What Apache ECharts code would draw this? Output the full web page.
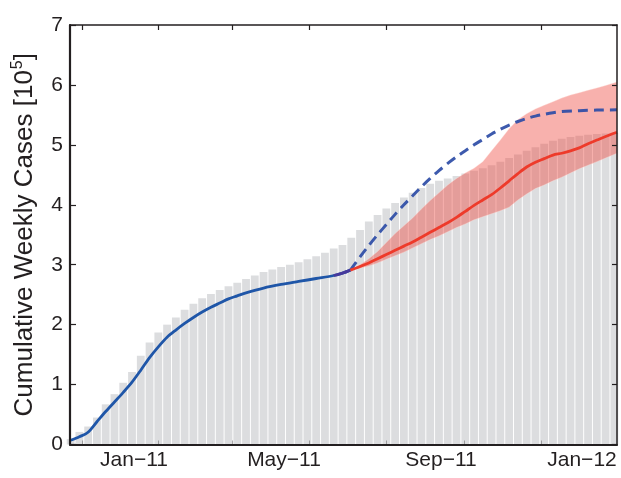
<!DOCTYPE html>
<html>
<head>
<meta charset="utf-8">
<script src="https://cdn.jsdelivr.net/npm/echarts@6/dist/echarts.min.js"></script>
<style>
  html, body { margin: 0; padding: 0; background: #ffffff; }
  #chart { width: 621px; height: 478px; }
</style>
</head>
<body>
<div id="chart"></div>
<script>
// Cumulative reported cases per week (x 10^5), one bar per week
const cumulativeCases = [
  0.09, 0.21, 0.30, 0.45, 0.67, 0.84, 1.03, 1.21, 1.48, 1.70,
  1.87, 2.00, 2.12, 2.25, 2.35, 2.44, 2.51, 2.58, 2.64, 2.70,
  2.76, 2.82, 2.88, 2.92, 2.96, 3.00, 3.04, 3.09, 3.14, 3.20,
  3.27, 3.33, 3.45, 3.58, 3.72, 3.83, 3.94, 4.03, 4.12, 4.20,
  4.28, 4.35, 4.40, 4.44, 4.48, 4.52, 4.57, 4.61, 4.66, 4.72,
  4.78, 4.84, 4.90, 4.96, 5.02, 5.07, 5.10, 5.13, 5.15, 5.17,
  5.18, 5.19, 5.20
];

// Model fit to the early epidemic (week index, cases x 10^5)
const fitWeeks = [0, 1, 1.95, 3, 4, 5, 6, 7, 8, 9, 10, 11, 12, 13, 14, 15, 16, 17, 18, 19, 20, 22, 24, 26, 28, 30, 31, 31.9];
const fitCases = [0.07, 0.13, 0.20, 0.38, 0.55, 0.71, 0.87, 1.04, 1.24, 1.45, 1.63, 1.79, 1.91, 2.02, 2.12, 2.21, 2.29, 2.36, 2.43, 2.48, 2.53, 2.61, 2.67, 2.72, 2.77, 2.82, 2.86, 2.91];

// Projection of the early fit (dashed)
const projWeeks = [31.9, 33, 34, 35, 36, 37, 38, 39, 40, 41, 42, 43, 44, 45, 46, 47, 48, 49, 50, 51, 52, 53, 54, 55, 56, 58, 60, 62.3];
const projCases = [2.91, 3.13, 3.32, 3.50, 3.67, 3.84, 4.00, 4.15, 4.30, 4.44, 4.57, 4.69, 4.80, 4.90, 5.00, 5.09, 5.18, 5.26, 5.33, 5.39, 5.44, 5.48, 5.51, 5.535, 5.555, 5.57, 5.58, 5.585];

// Updated model: median and uncertainty band
const modelWeeks = [31.9, 33, 34, 35, 36, 37, 38, 39, 40, 41, 42, 43, 44, 45, 46, 47, 48, 49, 50, 51, 52, 53, 54, 55, 56, 57, 58, 59, 60, 61, 62.3];
const modelMid = [2.91, 2.97, 3.03, 3.10, 3.17, 3.24, 3.31, 3.38, 3.46, 3.54, 3.62, 3.70, 3.79, 3.89, 3.99, 4.08, 4.17, 4.28, 4.40, 4.52, 4.63, 4.71, 4.77, 4.83, 4.86, 4.90, 4.95, 5.02, 5.08, 5.14, 5.21];
const modelLow = [2.91, 2.94, 2.98, 3.03, 3.09, 3.15, 3.21, 3.28, 3.35, 3.42, 3.48, 3.55, 3.62, 3.68, 3.75, 3.80, 3.85, 3.90, 3.96, 4.08, 4.18, 4.27, 4.33, 4.40, 4.46, 4.53, 4.60, 4.66, 4.72, 4.78, 4.86];
const modelHigh = [2.91, 3.00, 3.10, 3.22, 3.37, 3.52, 3.65, 3.78, 3.93, 4.07, 4.20, 4.33, 4.44, 4.53, 4.61, 4.72, 4.90, 5.08, 5.27, 5.42, 5.52, 5.60, 5.66, 5.72, 5.78, 5.83, 5.87, 5.91, 5.95, 5.99, 6.05];

// Axis ticks and month labels (in week units)
const tickWeeks = [1.30, 9.97, 18.40, 27.18, 35.96, 44.85, 53.63];
const monthLabelWeeks = [7.23, 24.33, 42.23, 58.31];
const monthLabels = ['Jan\u221211', 'May\u221211', 'Sep\u221211', 'Jan\u221212'];

const INK = '#231f20';
const FONT = 'Liberation Sans, Arial, Helvetica, sans-serif';
const X_MIN = -0.07, X_MAX = 62.3;

function monthLabelFor(v) {
  let best = 0;
  for (let i = 1; i < monthLabelWeeks.length; i++) {
    if (Math.abs(monthLabelWeeks[i] - v) < Math.abs(monthLabelWeeks[best] - v)) best = i;
  }
  return monthLabels[best];
}

const chart = echarts.init(document.getElementById('chart'), null, { renderer: 'canvas' });

const fitTail = fitWeeks.map((w, i) => [w, fitCases[i]]).filter(p => p[0] >= 30);

chart.setOption({
  animation: false,
  backgroundColor: '#ffffff',
  grid: { left: 70, right: 4, top: 25, bottom: 33.5, containLabel: false },
  xAxis: [
    {
      type: 'value', position: 'bottom', min: X_MIN, max: X_MAX, z: 10,
      axisLine: { show: true, onZero: false, lineStyle: { color: INK, width: 2.2 } },
      axisTick: { show: true, inside: true, length: 4, customValues: tickWeeks,
                  lineStyle: { color: 'rgba(35,31,32,0.35)', width: 1 } },
      axisLabel: { show: true, customValues: monthLabelWeeks, formatter: monthLabelFor,
                   color: INK, fontSize: 21, fontFamily: FONT, margin: 5 },
      splitLine: { show: false }
    },
    {
      type: 'value', position: 'top', min: X_MIN, max: X_MAX, z: 10,
      axisLine: { show: true, onZero: false, lineStyle: { color: INK, width: 1.5 } },
      axisTick: { show: true, inside: true, length: 5, customValues: tickWeeks,
                  lineStyle: { color: INK, width: 1.2 } },
      axisLabel: { show: false },
      splitLine: { show: false }
    }
  ],
  yAxis: [
    {
      type: 'value', position: 'left', min: 0, max: 7, interval: 1, z: 10,
      axisLine: { show: true, onZero: false, lineStyle: { color: INK, width: 2.2 } },
      axisTick: { show: true, inside: true, length: 6, lineStyle: { color: INK, width: 1.2 } },
      axisLabel: { color: INK, fontSize: 21, fontFamily: FONT, margin: 7 },
      splitLine: { show: false },
      name: '{a|Cumulative Weekly Cases [10}{s|5}{a|]}',
      nameLocation: 'middle',
      nameRotate: 90,
      nameGap: 30,
      nameTextStyle: {
        color: INK, fontFamily: FONT, fontSize: 26,
        rich: {
          a: { color: INK, fontFamily: FONT, fontSize: 26, lineHeight: 30 },
          s: { color: INK, fontFamily: FONT, fontSize: 16, lineHeight: 30, verticalAlign: 'top', padding: [0, 0, 0, 1] }
        }
      }
    },
    {
      type: 'value', position: 'right', min: 0, max: 7, interval: 1, z: 10,
      axisLine: { show: true, onZero: false, lineStyle: { color: INK, width: 1.5 } },
      axisTick: { show: true, inside: true, length: 5, lineStyle: { color: INK, width: 1.2 } },
      axisLabel: { show: false },
      splitLine: { show: false }
    }
  ],
  series: [
    {
      name: 'Weekly cumulative cases',
      type: 'bar', xAxisIndex: 0, yAxisIndex: 0, z: 1,
      barWidth: 7.8,
      itemStyle: { color: '#dcdddf' },
      data: cumulativeCases.map((v, i) => [i, v])
    },
    {
      name: 'Uncertainty band',
      type: 'custom', xAxisIndex: 0, yAxisIndex: 0, z: 3,
      data: modelWeeks.map((w, i) => [w, modelLow[i], modelHigh[i]]),
      encode: { x: 0, y: [1, 2] },
      renderItem: function (params, api) {
        if (params.dataIndex !== 0) return;
        const upper = modelWeeks.map((w, i) => api.coord([w, modelHigh[i]]));
        const lower = modelWeeks.map((w, i) => api.coord([w, modelLow[i]])).reverse();
        return {
          type: 'polygon',
          shape: { points: upper.concat(lower) },
          style: { fill: 'rgba(238,70,60,0.42)', stroke: 'rgba(255,220,215,0.35)', lineWidth: 1, lineJoin: 'round' }
        };
      }
    },
    {
      name: 'Early-fit projection',
      type: 'line', xAxisIndex: 0, yAxisIndex: 0, z: 4,
      symbol: 'none', smooth: 0.3,
      lineStyle: { color: '#2d4ca6', width: 3, type: [10, 6], opacity: 0.92 },
      data: projWeeks.map((w, i) => [w, projCases[i]])
    },
    {
      name: 'Early fit',
      type: 'line', xAxisIndex: 0, yAxisIndex: 0, z: 5,
      symbol: 'none', smooth: 0.3,
      lineStyle: { color: '#1f56a8', width: 2.8 },
      data: fitWeeks.map((w, i) => [w, fitCases[i]])
    },
    {
      name: 'Fit junction',
      type: 'line', xAxisIndex: 0, yAxisIndex: 0, z: 5,
      symbol: 'none', smooth: 0.3,
      lineStyle: { color: '#47399c', width: 2.8 },
      data: fitTail
    },
    {
      name: 'Updated model',
      type: 'line', xAxisIndex: 0, yAxisIndex: 0, z: 6,
      symbol: 'none', smooth: 0.3,
      lineStyle: { color: '#ee3a2a', width: 2.8 },
      data: modelWeeks.map((w, i) => [w, modelMid[i]])
    }
  ]
});
</script>
</body>
</html>
